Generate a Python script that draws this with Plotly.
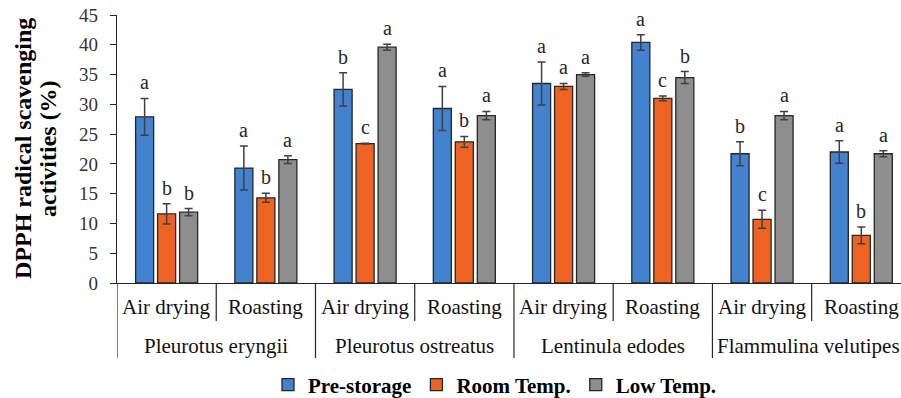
import plotly.graph_objects as go

species = ["Pleurotus eryngii", "Pleurotus ostreatus", "Lentinula edodes", "Flammulina velutipes"]
methods = ["Air drying", "Roasting"]
series_names = ["Pre-storage", "Room Temp.", "Low Temp."]
colors = ["#4382CF", "#EF6322", "#8E8E8E"]

pre_storage = [27.9, 19.3, 32.5, 29.3, 33.5, 40.4, 21.7, 22.0]
pre_storage_err = [3.1, 3.7, 2.8, 3.7, 3.6, 1.3, 2.0, 1.9]
room_temp = [11.6, 14.3, 23.4, 23.7, 33.0, 31.0, 10.7, 8.0]
room_temp_err = [1.7, 0.75, 0.05, 0.9, 0.5, 0.4, 1.5, 1.4]
low_temp = [11.9, 20.7, 39.6, 28.1, 35.0, 34.5, 28.1, 21.7]
low_temp_err = [0.6, 0.65, 0.5, 0.7, 0.3, 1.0, 0.7, 0.5]

pre_letters = ["a", "a", "b", "a", "a", "a", "b", "a"]
room_letters = ["b", "b", "c", "b", "a", "c", "c", "b"]
low_letters = ["b", "a", "a", "a", "a", "b", "a", "a"]

y_ticks = [0, 5, 10, 15, 20, 25, 30, 35, 40, 45]

SERIF = "Liberation Serif"
categories = [f"{sp}|{m}" for sp in species for m in methods]

values = [pre_storage, room_temp, low_temp]
errors = [pre_storage_err, room_temp_err, low_temp_err]
letters = [pre_letters, room_letters, low_letters]

BARGAP = 0.335
GROUPGAP = 0.18

fig = go.Figure()
for name, col, v, e in zip(series_names, colors, values, errors):
    fig.add_trace(go.Bar(
        x=categories, y=v, name=name,
        marker=dict(color=col, line=dict(color="#262626", width=1.3)),
        error_y=dict(type="data", array=e, color="#404040", thickness=1.5, width=4),
    ))

annotations = []
slot = (1 - BARGAP) / 3
for si in range(3):
    for ci, cat in enumerate(categories):
        annotations.append(dict(
            x=ci + (si - 1) * slot, y=values[si][ci] + errors[si][ci],
            xref="x", yref="y", text=letters[si][ci], showarrow=False,
            yanchor="bottom", yshift=3,
            font=dict(family=SERIF, size=20, color="#262626"),
        ))

# inner (method) labels
for ci, cat in enumerate(categories):
    annotations.append(dict(
        x=ci, y=0, xref="x", yref="paper", text=cat.split("|")[1], showarrow=False,
        yanchor="middle", yshift=-24,
        font=dict(family=SERIF, size=21, color="#111111"),
    ))
# outer (species) labels
for gi, sp in enumerate(species):
    annotations.append(dict(
        x=gi * 2 + 0.5, y=0, xref="x", yref="paper", text=sp, showarrow=False,
        yanchor="middle", yshift=-63, xshift=(-3 if gi == len(species) - 1 else 0),
        font=dict(family=SERIF, size=21, color="#111111"),
    ))

# y axis title (two lines)
PL, PW = 117, 784
annotations.append(dict(
    x=(23 - PL) / PW, y=0.5, xref="paper", yref="paper", text="DPPH radical scavenging",
    textangle=-90, showarrow=False, xanchor="center", yanchor="middle",
    font=dict(family=SERIF, size=24, color="#000000", weight="bold"),
))
annotations.append(dict(
    x=(48 - PL) / PW, y=0.5, xref="paper", yref="paper", text="activities (%)",
    textangle=-90, showarrow=False, xanchor="center", yanchor="middle",
    font=dict(family=SERIF, size=24, color="#000000", weight="bold"),
))

PH = 268
shapes = []
for k in range(len(species)):
    shapes.append(dict(type="line", xref="x", yref="paper", x0=2 * k + 0.5, x1=2 * k + 0.5,
                       y0=0, y1=-38 / PH, line=dict(color="#262626", width=1.2)))
for k in range(len(species) + 1):
    shapes.append(dict(type="line", xref="x", yref="paper", x0=2 * k - 0.5, x1=2 * k - 0.5,
                       y0=0, y1=-75 / PH, line=dict(color="#262626", width=1.2)))

fig.update_layout(
    width=901, height=398,
    margin=dict(l=PL, r=0, t=15, b=115),
    plot_bgcolor="white", paper_bgcolor="white",
    barmode="group", bargap=BARGAP, bargroupgap=GROUPGAP,
    annotations=annotations, shapes=shapes,
    xaxis=dict(type="category", categoryorder="array", categoryarray=categories,
               range=[-0.5, 7.4], showticklabels=False, ticks="",
               showline=True, linecolor="#262626", linewidth=1.2, showgrid=False),
    yaxis=dict(range=[0, 45], tickvals=y_ticks, ticks="outside", ticklen=6,
               tickcolor="#262626", showline=True, linecolor="#262626", linewidth=1.2,
               showgrid=False, zeroline=False, ticklabelstandoff=8,
               tickfont=dict(family=SERIF, size=19, color="#333333")),
    legend=dict(orientation="h", xref="container", yref="container",
                x=268 / 901, xanchor="left", y=13 / 398, yanchor="middle",
                font=dict(family=SERIF, size=21, color="#000000", weight="bold"),
                bgcolor="rgba(0,0,0,0)"),
    showlegend=True,
)

fig.write_html("out.html")
